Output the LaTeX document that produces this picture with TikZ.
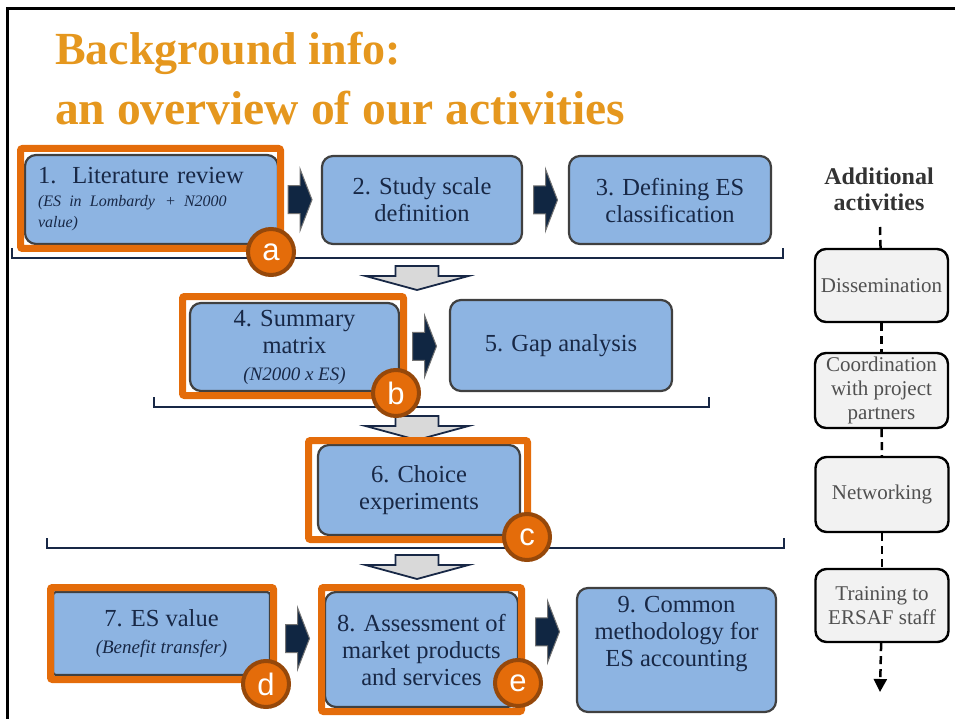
\documentclass[tikz,border=0pt]{standalone}
\usepackage{fontspec}
\setmainfont{Liberation Serif}
\newfontfamily\badgefont{Liberation Sans}
\usepackage{tikz}
\usetikzlibrary{arrows.meta}
\usetikzlibrary{calc}
\usetikzlibrary{positioning}
\definecolor{mtitle}{RGB}{229,151,30}
\definecolor{mblue}{RGB}{141,180,226}
\definecolor{mnavy}{RGB}{24,40,70}
\definecolor{marrow}{RGB}{16,38,66}
\definecolor{morange}{RGB}{228,108,10}
\definecolor{mbrown}{RGB}{150,72,10}
\definecolor{mlight}{RGB}{242,242,242}
\definecolor{mgray}{RGB}{217,217,217}
\definecolor{mtext}{RGB}{80,80,80}
\newcommand{\noteit}[1]{{\fontsize{19}{22}\selectfont\itshape #1}}
\tikzset{actbox/.style 2 args = {draw=black!75, fill=mblue, line width=2.2pt,
                                  rounded corners=11pt, text=mnavy, align=center,
                                  minimum width=#1, minimum height=#2, inner sep=2pt,
                                  font=\fontsize{24.5}{27}\selectfont}}
\tikzset{addbox/.style = {draw=black, fill=mlight, line width=2.4pt, rounded corners=11pt,
                          text=mtext, align=center, minimum width=133, inner sep=0,
                          font=\fontsize{21}{24}\selectfont}}
\tikzset{hilite/.style = {draw=morange, line width=7pt, rounded corners=2pt}}
\tikzset{badge/.style = {circle, fill=morange, draw=mbrown, line width=4pt, minimum size=46,
                         inner sep=0, text=white, font=\badgefont\fontsize{31}{31}\selectfont}}
\tikzset{bracket/.style = {draw=mnavy, line width=2.5pt}}
\tikzset{dashline/.style = {draw=black, line width=2.5pt, dash pattern=on 8pt off 5pt}}
\tikzset{pics/joinarrow/.style = {code = {
  \filldraw[fill=marrow, draw=black!55, line width=1pt]
    (-12,-14) -- (0,-14) -- (0,-31) -- (12,0) -- (0,31) -- (0,14) -- (-12,14) -- cycle;}}}
\tikzset{pics/stagearrow/.style = {code = {
  \filldraw[fill=mgray, draw=mnavy, line width=1.8pt]
    (-21.5,0) -- (21.5,0) -- (21.5,10) -- (51.5,10) -- (0,24) -- (-51.5,10) -- (-21.5,10) -- cycle;}}}

\begin{document}
\begin{tikzpicture}[x=1pt, y=-1pt]
  \useasboundingbox (0,0) rectangle (955,719);
  \draw[line width=3pt] (7,719) -- (7,9) -- (955,9);

  \node[anchor=base west, inner sep=0, text=mtitle, font=\fontsize{46}{50}\bfseries] (title1) at (55,65) {Background info:};
  \node[anchor=base west, inner sep=0, text=mtitle, font=\fontsize{47.5}{50}\bfseries] (title2) at (55,125) {an overview of our activities};

  % stages
  \draw[bracket] (12,248) |- (783,258) -- (783,248);
  \draw[bracket] (154,397) |- (709,407) -- (709,397);
  \draw[bracket] (47,538) |- (784,548) -- (784,538);
  \pic at (417,266) {stagearrow};
  \pic at (417,416) {stagearrow};
  \pic at (417,555) {stagearrow};

  % activities
  \node[actbox={253}{89}, align=left, text width=227, inner xsep=13] (b1) at (151.5,199.5)
    {1.\hspace{16pt}Literature review\\[-4pt]
     {\fontsize{16}{20}\selectfont\itshape (ES in Lombardy\hspace{10pt}+ N2000}\\[-6pt]
     {\fontsize{16}{20}\selectfont\itshape value)}};
  \node[actbox={200}{88}] (b2) at (422,200) {2. Study scale\\definition};
  \node[actbox={202}{88}] (b3) at (670,200) {3. Defining ES\\classification};
  \node[actbox={209}{88}] (b4) at (294.5,347) {4. Summary\\matrix\\\noteit{(N2000 x ES)}};
  \node[actbox={222}{91}] (b5) at (561,345.5) {5. Gap analysis};
  \node[actbox={202}{90}] (b6) at (419,490) {6. Choice\\experiments};
  \node[actbox={217}{83}, rounded corners=3pt] (b7) at (161.5,633.5) {7. ES value\\\noteit{(Benefit transfer)}};
  \node[actbox={193}{115}] (b8) at (421.5,649.5) {8. Assessment of\\market products\\and services};
  \node[actbox={199}{124}, text depth=37] (b9) at (676.5,650) {9. Common\\methodology for\\ES accounting};

  \pic at ($(b1.east)!0.5!(b2.west)$) {joinarrow};
  \pic at ($(b2.east)!0.5!(b3.west)$) {joinarrow};
  \pic at ($(b4.east)!0.5!(b5.west)$) {joinarrow};
  \pic at ($(b7.east)!0.5!(b8.west)+(0,-3)$) {joinarrow};
  \pic at ($(b8.east)!0.5!(b9.west)+(0,-18)$) {joinarrow};

  % highlighted activities
  \draw[hilite] (20.5,148.5) rectangle (280.5,248.5);
  \draw[hilite] (182.5,296.5) rectangle (403.5,395.5);
  \draw[hilite] (308.5,440.5) rectangle (527.5,539.5);
  \draw[hilite] (50.5,587.5) rectangle (273.5,679.5);
  \draw[hilite] (321.5,587.5) rectangle (521.5,711.5);
  \node[badge] (ba) at (271,252) {a};
  \node[badge] (bb) at (396,393) {b};
  \node[badge] (bc) at (527,537) {c};
  \node[badge] (bd) at (266,684) {d};
  \node[badge] (be) at (518,683) {e};

  % additional activities
  \node[anchor=north, inner sep=0, align=center, text=black!80, font=\fontsize{24}{26}\bfseries] (addl) at (879,168) {Additional\\activities};
  \node[addbox, minimum height=73] (g1) at (881.5,285.5) {Dissemination};
  \node[addbox, minimum height=75] (g2) at (881.5,390.5) {Coordination\\with project\\partners};
  \node[addbox, minimum height=75] (g3) at (882,494.5) {Networking};
  \node[addbox, minimum height=73] (g4) at (882,605.5) {Training to\\ERSAF staff};
  \coordinate (addtop) at (880,227);
  \coordinate (addend) at (880,692);
  \draw[dashline] (addtop) -- (g1);
  \draw[dashline] (g1) -- (g2);
  \draw[dashline] (g2) -- (g3);
  \draw[dashline] (g3) -- (g4);
  \draw[dashline, -{Triangle[length=13pt, width=13pt]}] (g4) -- (addend);
\end{tikzpicture}
\end{document}
